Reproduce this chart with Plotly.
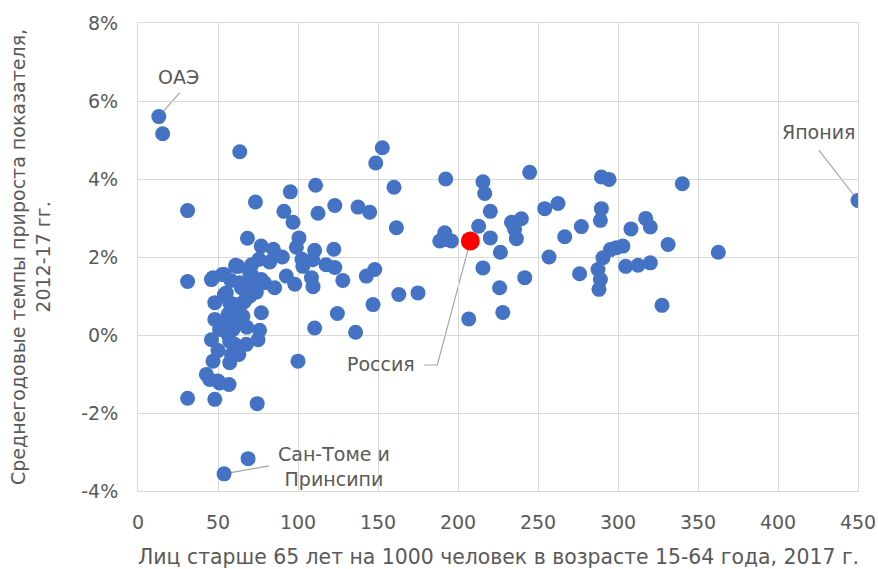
import plotly.graph_objects as go

# Persons 65+ per 1000 persons aged 15-64 (2017) vs avg annual growth 2012-17, %
x_vals = [
    13, 15.4, 31, 31, 31, 53.8, 68.8, 63.6, 74.5, 100,
    73.4, 95.2, 111, 91.2, 112.5, 123, 96.9, 68.4, 100.6, 77, 84.6, 99, 90.2, 75.6, 82.3,
    110.4, 122.4, 102.5, 109.2, 61, 117.5, 123, 103, 128, 92.7, 108.4, 98, 109.4, 85.4,
    77.1, 77.1, 124.6, 110.4,
    45.9, 52.7, 61.5, 69.8, 62.5, 46.9, 54, 70.9, 104, 63.6, 67.7, 55.2, 79, 54, 64.6,
    48, 57.3, 65.6, 60.4, 66.7, 48, 57.3, 65.6, 56.3, 64.6, 51, 59.4, 76, 56.3,
    45.9, 57.3, 67.7, 75, 60.4, 58.4, 46.9, 57.3, 42.7, 44.8, 51, 56.9, 50, 48,
    72, 70, 62, 53, 68, 50, 63, 71, 58, 74,
    152.7, 148.6, 192.3, 160, 137.5, 144.8, 161.5, 191.7, 188.6, 195.9, 191.7,
    148, 142.7, 163, 175, 146.9, 136,
    244.8, 215.6, 216.7, 220.2, 212.9, 220.2, 226.5, 233.4, 239.6, 235.4, 236.5,
    215.6, 241.7, 226, 228, 206.7, 254.2, 262.5, 256.9, 266.7, 277.1, 276,
    289.6, 294.4, 340.2, 450, 289.6, 289, 317.3, 320.2, 308.1, 331.3, 303.1, 299,
    295.3, 290.6, 287.5, 289, 288.1, 304.8, 312.5, 320.2, 362.7, 327.5,
]
y_vals = [
    5.6, 5.16, 3.19, 1.37, -1.62, -3.56, -3.17, 4.7, -1.76, -0.67,
    3.41, 3.67, 3.84, 3.17, 3.12, 3.32, 2.89, 2.48, 2.49, 2.28, 2.2, 2.25, 2.0, 1.94, 1.87,
    2.17, 2.2, 1.94, 1.93, 1.79, 1.8, 1.73, 1.76, 1.4, 1.51, 1.47, 1.3, 1.24, 1.21,
    1.42, 0.57, 0.55, 0.18,
    1.42, 1.55, 1.76, 1.6, 1.76, 1.47, 1.55, 1.55, 1.86, 1.34, 1.08, 1.08, 1.34, 1.04, 1.21,
    0.83, 0.83, 0.83, 0.78, 0.87, 0.4, 0.48, 0.48, 0.53, 0.35, 0.14, 0.14, 0.12, 0.01,
    -0.12, -0.16, -0.24, -0.12, -0.24, -0.5, -0.67, -0.71, -1.01, -1.14, -1.23, -1.27, -1.18, -1.65,
    1.3, 1.0, 0.6, 0.3, 0.2, -0.4, -0.5, 1.8, 1.4, 1.1,
    4.8, 4.41, 4.0, 3.79, 3.28, 3.15, 2.75, 2.62, 2.41, 2.41, 2.45,
    1.68, 1.51, 1.04, 1.08, 0.78, 0.07,
    4.17, 3.93, 3.63, 3.17, 2.79, 2.49, 2.12, 2.89, 2.98, 2.71, 2.47,
    1.72, 1.47, 1.21, 0.58, 0.41, 3.24, 3.37, 2.0, 2.52, 2.78, 1.57,
    4.05, 3.99, 3.88, 3.45, 3.24, 2.94, 2.99, 2.77, 2.72, 2.32, 2.28, 2.24,
    2.19, 1.98, 1.68, 1.42, 1.17, 1.76, 1.79, 1.85, 2.12, 0.76,
]

russia_x = [207.7]
russia_y = [2.41]

uae = (13, 5.6)
japan = (450, 3.45)
stp = (53.8, -3.56)

x_tickvals = [0, 50, 100, 150, 200, 250, 300, 350, 400, 450]
y_tickvals = [-4, -2, 0, 2, 4, 6, 8]
y_ticktext = ["-4%", "-2%", "0%", "2%", "4%", "6%", "8%"]

FONT = "DejaVu Sans"
GREY = "#595959"
GRID = "#d9d9d9"
FS = 19

fig = go.Figure()
fig.add_trace(go.Scatter(
    x=x_vals, y=y_vals, mode="markers",
    marker=dict(size=15, color="#4472C4", line=dict(width=0)),
    hoverinfo="x+y", showlegend=False,
))
fig.add_trace(go.Scatter(
    x=russia_x, y=russia_y, mode="markers",
    marker=dict(size=19, color="#FF0000", line=dict(width=0)),
    showlegend=False,
))

def leader(pt, path):
    fig.add_shape(type="path", xref="x", yref="y",
                  xsizemode="pixel", ysizemode="pixel",
                  xanchor=pt[0], yanchor=pt[1], path=path,
                  line=dict(color="#a6a6a6", width=1.2), layer="below")

def label(pt, text, dx, dy):
    fig.add_annotation(x=pt[0], y=pt[1], xref="x", yref="y", text=text,
                       showarrow=False, xshift=dx, yshift=dy,
                       font=dict(family=FONT, size=FS, color=GREY))

leader(uae, "M 0,0 L 21,24")
label(uae, "ОАЭ", 20, 40)
leader(japan, "M 0,0 L -39,50")
label(japan, "Япония", -40, 68)
leader((russia_x[0], russia_y[0]), "M 0,0 L -33,-124 L -46,-124")
label((russia_x[0], russia_y[0]), "Россия", -89, -123)
leader(stp, "M 0,0 L 45,8")
label(stp, "Сан-Томе и<br>Принсипи", 110, 7)

axis_common = dict(showgrid=True, gridcolor=GRID, gridwidth=1, zeroline=False,
                   showline=True, linecolor=GRID, linewidth=1, mirror=True,
                   automargin=False,
                   ticks="", tickfont=dict(family=FONT, size=FS, color=GREY))

fig.update_xaxes(range=[0, 450], tickvals=x_tickvals, ticklabelstandoff=14, **axis_common)
fig.update_yaxes(range=[-4, 8], tickvals=y_tickvals, ticktext=y_ticktext,
                 ticklabelstandoff=15, **axis_common)

fig.add_annotation(xref="paper", yref="paper", x=0.5, y=-0.142, yanchor="middle",
                   text="Лиц старше 65 лет на 1000 человек в возрасте 15-64 года, 2017 г.",
                   showarrow=False, font=dict(family=FONT, size=20.4, color=GREY))
fig.add_annotation(xref="paper", yref="paper", x=-0.15, y=0.5, xanchor="center",
                   textangle=-90,
                   text="Среднегодовые темпы прироста показателя,<br>2012-17 гг.",
                   showarrow=False, font=dict(family=FONT, size=19, color=GREY))

fig.update_layout(
    width=878, height=569, autosize=False,
    margin=dict(l=138, r=20, t=23, b=78, autoexpand=False),
    plot_bgcolor="white", paper_bgcolor="white",
    font=dict(family=FONT, color=GREY),
)

fig.write_html("out.html",
               config={"responsive": False, "displayModeBar": False},
               post_script="document.body.style.margin='0';document.body.style.overflow='hidden';")
